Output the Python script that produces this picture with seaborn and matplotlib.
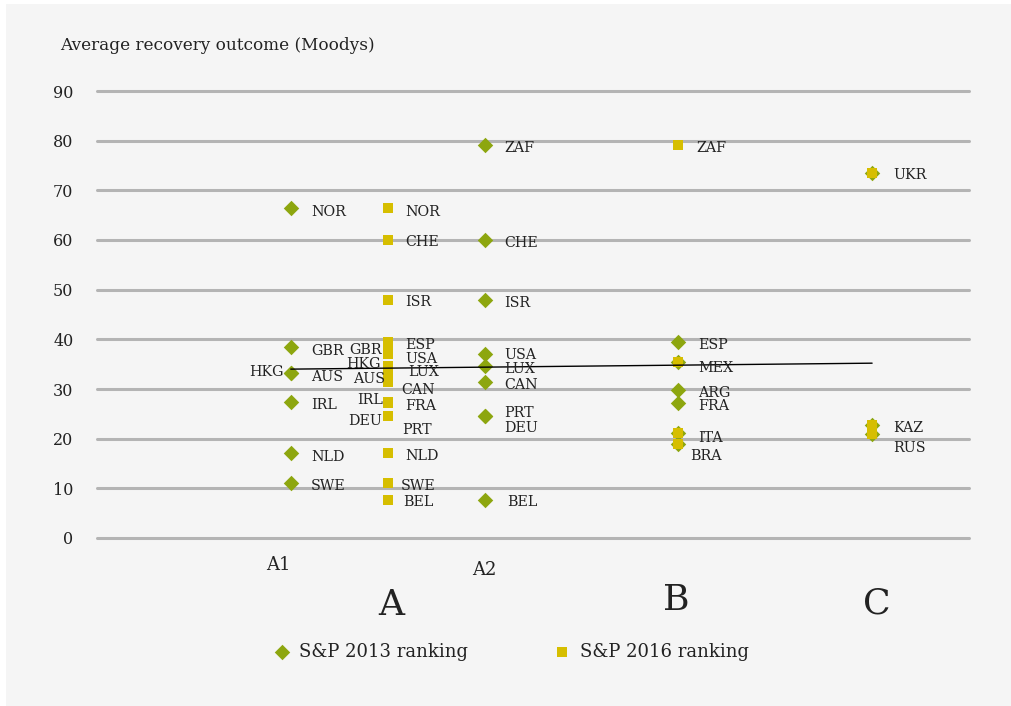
import matplotlib
matplotlib.use("Agg")
import matplotlib.pyplot as plt
import matplotlib.transforms as mtransforms
from matplotlib.patches import Rectangle
import seaborn as sns
import pandas as pd

# ---------------- data ----------------
countries_2013 = ["NOR", "GBR", "HKG", "AUS", "IRL", "NLD", "SWE",
                  "ZAF", "CHE", "ISR", "USA", "LUX", "CAN", "PRT", "DEU", "BEL",
                  "ESP", "MEX", "ARG", "FRA", "ITA", "BRA",
                  "UKR", "KAZ", "RUS"]
groups_2013 = ["A1"] * 7 + ["A2"] * 9 + ["B"] * 6 + ["C"] * 3
values_2013 = [66.4, 38.4, 33.2, 33.2, 27.4, 17.1, 11.1,
               79.2, 60.1, 48.0, 37.0, 34.6, 31.4, 24.5, 24.5, 7.6,
               39.4, 35.4, 29.8, 27.2, 21.1, 18.9,
               73.4, 22.7, 20.9]

countries_2016 = ["NOR", "CHE", "ISR", "ESP", "GBR", "USA", "HKG", "LUX", "AUS",
                  "CAN", "IRL", "FRA", "DEU", "PRT", "NLD", "SWE", "BEL",
                  "ZAF", "MEX", "ITA", "BRA",
                  "UKR", "KAZ", "RUS"]
groups_2016 = ["A"] * 17 + ["B"] * 4 + ["C"] * 3
values_2016 = [66.4, 60.1, 48.0, 39.4, 38.4, 37.0, 33.2, 34.6, 33.2,
               31.4, 27.4, 27.2, 24.5, 24.5, 17.1, 11.1, 7.6,
               79.2, 35.4, 21.1, 18.9,
               73.4, 22.7, 20.9]

trend_groups = ["A1", "C"]
trend_values = [34.0, 35.2]

y_ticks = [0, 10, 20, 30, 40, 50, 60, 70, 80, 90]
series_names = ["S&P 2013 ranking", "S&P 2016 ranking"]
y_title = "Average recovery outcome (Moodys)"

# category scale (rating buckets)
group_pos = {"A1": 1.0, "A": 1.5, "A2": 2.0, "B": 3.0, "C": 4.0}

# ---------------- style ----------------
BG = "#f5f5f5"
GREEN = "#8da60f"
YELLOW = "#d6be00"
GRID = "#b4b4b4"
TXT = "#222222"
FONT = ["DejaVu Serif"]

sns.set_theme(style="white")
plt.rcParams["font.family"] = FONT
plt.rcParams["text.color"] = TXT

df13 = pd.DataFrame({"country": countries_2013, "group": groups_2013, "value": values_2013})
df16 = pd.DataFrame({"country": countries_2016, "group": groups_2016, "value": values_2016})
df13["x"] = df13["group"].map(group_pos)
df16["x"] = df16["group"].map(group_pos)

W, H = 1011, 706
fig = plt.figure(figsize=(W / 100, H / 100), dpi=100)
fig.patch.set_facecolor("white")
fig.patches.append(Rectangle((6 / W, 0), 1 - 6 / W, 1 - 4 / H, transform=fig.transFigure,
                             facecolor=BG, edgecolor="none", zorder=-10))

ax = fig.add_axes([97 / W, 1 - 538 / H, (969 - 97) / W, (538 - 91) / H])
ax.set_facecolor("none")

sns.scatterplot(data=df13, x="x", y="value", marker="D", color=GREEN, s=62,
                linewidth=0, ax=ax, label=series_names[0], zorder=3, clip_on=False)
sns.scatterplot(data=df16, x="x", y="value", marker="s", color=YELLOW, s=52,
                linewidth=0, ax=ax, label=series_names[1], zorder=4, clip_on=False)

ax.plot([group_pos[g] for g in trend_groups], trend_values, color="black", linewidth=1.0, zorder=5)

ax.set_xlim(0, 4.5)
ax.set_ylim(0, 90)
ax.set_yticks(y_ticks)
ax.yaxis.grid(True, color=GRID, linewidth=2.2)
for gl in ax.get_ygridlines():
    gl.set_clip_on(False)
ax.set_axisbelow(True)
for s in ax.spines.values():
    s.set_visible(False)
ax.set_xticks([])
ax.tick_params(axis="y", length=0, pad=17, labelsize=11.5, labelcolor=TXT)
ax.set_xlabel("")
ax.set_ylabel("")

# ---------------- point labels ----------------
# (dx px, dy px downward, ha)
label_adj_2013 = {
    "HKG": (-7, -3, "right"), "USA": (20, -1, "left"), "LUX": (20, 1, "left"),
    "CAN": (20, 1, "left"), "PRT": (20, -5, "left"), "DEU": (20, 10, "left"),
    "BEL": (23, 0, "left"), "ESP": (20, 1, "left"), "MEX": (20, 4, "left"),
    "FRA": (20, 2, "left"), "ITA": (20, 3, "left"), "BRA": (12, 10, "left"),
    "UKR": (21, 0, "left"), "KAZ": (21, 1, "left"), "RUS": (21, 12, "left"),
}
label_adj_2016 = {
    "CHE": (18, 1, "left"), "ISR": (18, 1, "left"), "GBR": (-6, 1, "right"),
    "ESP": (18, 1, "left"), "USA": (18, 3, "left"),
    "HKG": (-7, -11, "right"), "LUX": (21, 4, "left"), "AUS": (-3, 4, "right"),
    "CAN": (14, 6, "left"), "IRL": (-5, -3, "right"), "DEU": (-6, 3, "right"),
    "PRT": (15, 12, "left"), "NLD": (18, 1, "left"), "SWE": (13, 2, "left"),
    "BEL": (16, 0, "left"),
}

def put_labels(df, adj, default_dx, skip=None):
    for _, r in df.iterrows():
        if skip is not None and (r["country"], r["group"]) in skip:
            continue
        dx, dy, ha = adj.get(r["country"], (default_dx, 2, "left"))
        ax.annotate(r["country"], (r["x"], r["value"]), xytext=(dx, -dy),
                    textcoords="offset pixels", ha=ha, va="center_baseline",
                    fontsize=10.3, color=TXT, zorder=6, annotation_clip=False)

put_labels(df13, label_adj_2013, 20)
shared = set(zip(df13["country"], df13["group"]))
put_labels(df16, label_adj_2016, 18, skip=shared)

# ---------------- category labels ----------------
trans = mtransforms.blended_transform_factory(ax.transData, fig.transFigure)
small_cats = [("A1", -12, 565), ("A2", 0, 570)]
big_cats = [("A", 4, 605), ("B", -2, 600), ("C", 5, 603)]
for name, off, ypx in small_cats:
    ax.text(group_pos[name], 1 - ypx / H, name,
            transform=trans + mtransforms.ScaledTranslation(off / 100, 0, fig.dpi_scale_trans),
            ha="center", va="center", fontsize=13, color=TXT)
for name, off, ypx in big_cats:
    ax.text(group_pos[name], 1 - ypx / H, name,
            transform=trans + mtransforms.ScaledTranslation(off / 100, 0, fig.dpi_scale_trans),
            ha="center", va="center", fontsize=26, color=TXT)

fig.text(60 / W, 1 - 46 / H, y_title, ha="left", va="center", fontsize=12.2, color=TXT)

# ---------------- legend ----------------
ax.get_legend().remove()
handles, labels = ax.get_legend_handles_labels()
leg = fig.legend(handles, labels, loc="center", bbox_to_anchor=(510 / W, 1 - 652 / H),
                 ncol=2, frameon=False, fontsize=13, handletextpad=0.35,
                 columnspacing=4.6, markerscale=1.0, handlelength=1.2)
for t in leg.get_texts():
    t.set_color(TXT)

fig.savefig("out.png", dpi=100, facecolor=fig.get_facecolor())
